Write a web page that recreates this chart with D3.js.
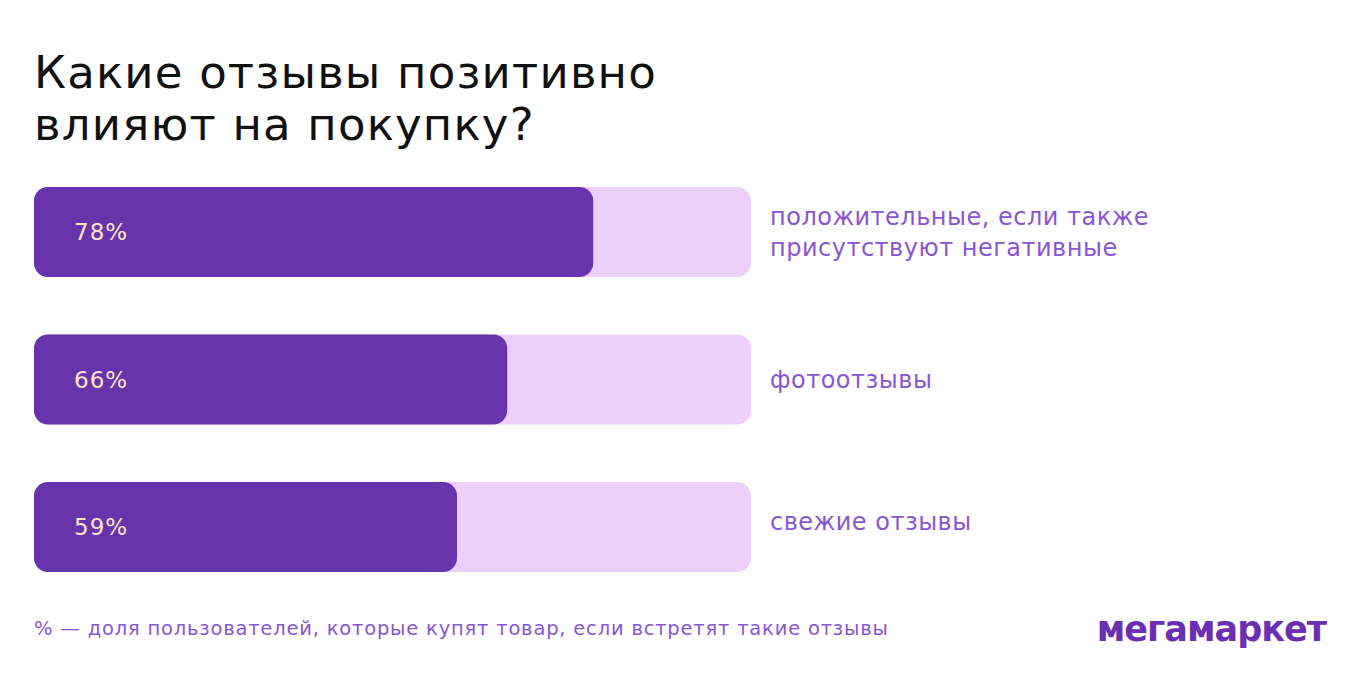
<!DOCTYPE html>
<html><head><meta charset="utf-8">
<script src="https://cdn.jsdelivr.net/npm/d3@7"></script>
<style>body{margin:0;background:#fff}svg{display:block}</style>
</head><body>
<script>
const categories = ["положительные, если также присутствуют негативные", "фотоотзывы", "свежие отзывы"];
const labelLines = [["положительные, если также", "присутствуют негативные"], ["фотоотзывы"], ["свежие отзывы"]];
const values = [78, 66, 59];
const valueLabels = ["78%", "66%", "59%"];
const titleLines = ["Какие отзывы позитивно", "влияют на покупку?"];
const footnote = "% — доля пользователей, которые купят товар, если встретят такие отзывы";
const brand = "мегамаркет";

const W = 1360, H = 680;
const font = "'DejaVu Sans', sans-serif";
const svg = d3.select("body").append("svg").attr("width", W).attr("height", H);

const x = d3.scaleLinear().domain([0, 100]).range([34, 751]);
const y = d3.scaleBand().domain(categories).range([187, 572]).paddingInner(0.39).paddingOuter(0);

svg.append("g").selectAll("text").data(titleLines).join("text")
  .attr("x", 34).attr("y", (d, i) => 88 + i * 52)
  .attr("font-family", font).attr("font-size", 45).attr("letter-spacing", 1.2)
  .attr("fill", "#111").text(d => d);

const g = svg.append("g");
g.selectAll("rect.bg").data(categories).join("rect").attr("class", "bg")
  .attr("x", x(0)).attr("y", d => y(d)).attr("width", x(100) - x(0)).attr("height", y.bandwidth())
  .attr("rx", 14).attr("fill", "#ECD0FA");
g.selectAll("rect.fg").data(values).join("rect").attr("class", "fg")
  .attr("x", x(0)).attr("y", (d, i) => y(categories[i])).attr("width", d => x(d) - x(0)).attr("height", y.bandwidth())
  .attr("rx", 14).attr("fill", "#6734AC");
g.selectAll("text.val").data(valueLabels).join("text").attr("class", "val")
  .attr("x", 74).attr("y", (d, i) => y(categories[i]) + y.bandwidth() / 2)
  .attr("dy", "0.36em").attr("font-family", font).attr("font-size", 23).attr("letter-spacing", 1)
  .attr("fill", "#FCE3C8").text(d => d);

const lab = g.selectAll("text.lab").data(labelLines).join("text").attr("class", "lab")
  .attr("font-family", font).attr("font-size", 24).attr("letter-spacing", 0.5).attr("fill", "#8A55D2")
  .attr("transform", (d, i) => `translate(770, ${y(categories[i]) + y.bandwidth() / 2 - (i === 2 ? 6 : 0)})`);
lab.selectAll("tspan").data(d => d.map((t, j) => ({t, j, n: d.length}))).join("tspan")
  .attr("x", 0).attr("y", d => (d.j - (d.n - 1) / 2) * 31).attr("dy", "0.36em").text(d => d.t);

svg.append("text").attr("x", 34).attr("y", 628).attr("dy", "0.36em")
  .attr("font-family", font).attr("font-size", 19.5).attr("letter-spacing", 0.8).attr("fill", "#8A55D2").text(footnote);

svg.append("text").attr("x", 1326).attr("y", 628).attr("dy", "0.36em").attr("text-anchor", "end")
  .attr("font-family", font).attr("font-size", 35).attr("font-weight", 700).attr("letter-spacing", -1)
  .attr("fill", "#6B2FB2").text(brand);
</script>
</body></html>
